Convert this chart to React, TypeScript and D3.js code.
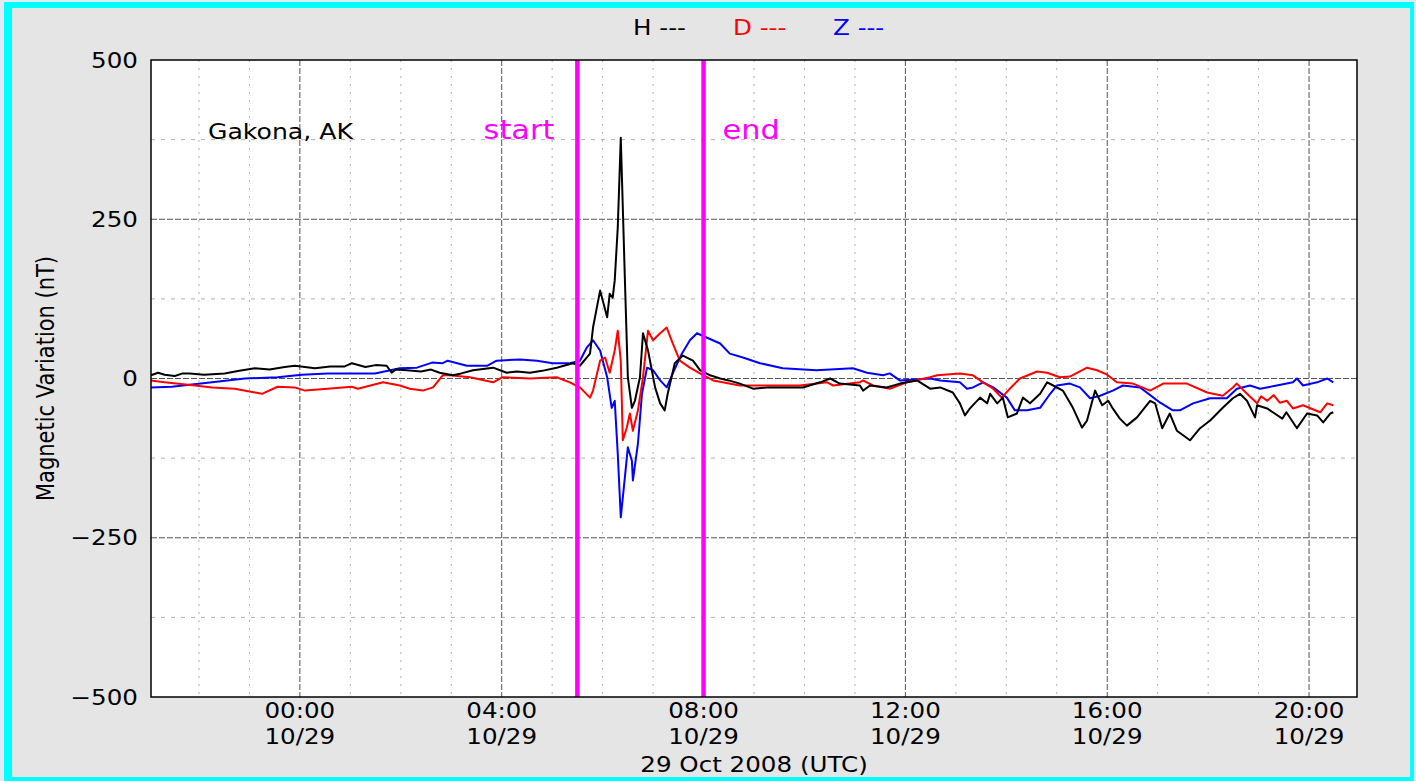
import { useEffect, useRef } from "react";
import * as d3 from "d3";

type Pt = [number, number];

// hours relative to 00:00 UTC 29 Oct 2008, value in nT
const hSeries: Pt[] = [
  [-2.95, 5], [-2.81, 9], [-2.68, 6], [-2.48, 4], [-2.32, 8], [-2.18, 8], [-1.9, 6],
  [-1.49, 8], [-1.2, 12], [-0.89, 16], [-0.6, 14], [-0.3, 18], [-0.1, 20], [0.3, 16],
  [0.6, 19], [0.89, 19], [1.03, 24], [1.3, 18], [1.5, 21], [1.72, 20], [1.82, 9],
  [1.9, 14], [2.12, 13], [2.4, 11], [2.6, 14], [2.77, 9], [3.03, 5], [3.2, 8],
  [3.43, 13], [3.83, 17], [4.1, 9], [4.3, 11], [4.56, 9], [4.8, 12], [5.09, 17],
  [5.41, 24], [5.55, 20], [5.75, 39], [5.81, 80], [5.95, 138], [6.09, 96], [6.14, 133],
  [6.2, 127], [6.24, 154], [6.3, 237], [6.36, 378], [6.44, 159], [6.5, 2], [6.58, -46],
  [6.64, -35], [6.74, 2], [6.8, 71], [6.9, 44], [7.04, -14], [7.14, -39], [7.23, -50],
  [7.29, -24], [7.43, 24], [7.59, 36], [7.79, 28], [7.93, 13], [8.13, 5], [8.33, 0],
  [8.5, -3], [8.72, -8], [8.98, -16], [9.26, -14], [9.65, -14], [9.97, -14], [10.31, -6],
  [10.51, 0], [10.7, -8], [11.1, -11], [11.16, -19], [11.3, -11], [11.63, -14],
  [11.89, -8], [12.23, -3], [12.49, -16], [12.69, -14], [12.94, -22], [13.08, -39],
  [13.18, -58], [13.28, -47], [13.48, -30], [13.62, -39], [13.68, -24], [13.82, -39],
  [13.93, -30], [14.03, -61], [14.21, -55], [14.33, -30], [14.47, -39], [14.67, -24],
  [14.81, -6], [14.93, -11], [15.12, -19], [15.32, -46], [15.5, -77], [15.6, -66],
  [15.76, -19], [15.9, -42], [16.02, -35], [16.11, -47], [16.25, -63], [16.39, -74],
  [16.59, -61], [16.85, -35], [16.95, -39], [17.09, -78], [17.24, -55], [17.38, -82],
  [17.64, -97], [17.84, -78], [18.04, -66], [18.29, -46], [18.49, -31], [18.63, -24],
  [18.77, -35], [18.93, -61], [18.97, -42], [19.17, -47], [19.47, -63], [19.55, -53],
  [19.76, -78], [19.96, -55], [20.16, -58], [20.28, -69], [20.42, -55], [20.48, -53],
];

const dSeries: Pt[] = [
  [-2.95, -3], [-2.68, -6], [-2.08, -11], [-1.74, -14], [-1.29, -16], [-0.89, -22],
  [-0.75, -24], [-0.44, -13], [-0.1, -14], [0.1, -19], [0.55, -16], [1.03, -13],
  [1.15, -16], [1.65, -6], [1.98, -11], [2.18, -16], [2.44, -19], [2.64, -14], [2.83, 5],
  [2.97, 5], [3.37, 2], [3.83, -6], [4.02, 2], [4.56, 0], [5.09, 2], [5.35, -6],
  [5.55, -14], [5.75, -30], [5.81, -19], [5.95, 28], [6.05, 33], [6.14, 9], [6.24, 44],
  [6.3, 75], [6.36, 28], [6.4, -97], [6.48, -77], [6.54, -55], [6.6, -82], [6.7, -50],
  [6.8, 2], [6.9, 75], [7.0, 60], [7.14, 71], [7.27, 80], [7.39, 55], [7.53, 28],
  [7.73, 17], [7.93, 8], [8.19, -3], [8.72, -11], [9.26, -11], [9.91, -11], [10.45, -6],
  [10.57, -11], [11.1, -6], [11.16, -3], [11.36, -11], [11.69, -16], [12.03, -6],
  [12.49, 2], [12.63, 5], [13.08, 8], [13.34, 5], [13.54, -6], [13.74, -16], [13.91, -30],
  [14.07, -16], [14.27, 0], [14.61, 11], [14.81, 9], [15.06, 2], [15.26, 3], [15.6, 17],
  [15.8, 13], [16.0, 6], [16.19, -6], [16.51, -8], [16.85, -19], [17.11, -8], [17.58, -8],
  [17.98, -22], [18.29, -27], [18.49, -14], [18.57, -8], [18.77, -24], [18.97, -39],
  [19.05, -28], [19.17, -35], [19.3, -26], [19.42, -38], [19.56, -35], [19.68, -47],
  [19.88, -42], [20.22, -53], [20.36, -39], [20.48, -42],
];

const zSeries: Pt[] = [
  [-2.95, -14], [-2.54, -13], [-1.74, -6], [-1.09, 0], [-0.44, 2], [0.04, 6], [0.55, 8],
  [1.49, 8], [1.98, 16], [2.32, 17], [2.62, 25], [2.83, 24], [2.93, 28], [3.31, 20],
  [3.71, 20], [3.9, 28], [4.36, 30], [4.7, 28], [5.01, 24], [5.35, 24], [5.55, 28],
  [5.69, 49], [5.81, 60], [5.95, 44], [6.09, 2], [6.18, -46], [6.24, -35], [6.3, -118],
  [6.36, -218], [6.44, -156], [6.5, -108], [6.58, -129], [6.6, -160], [6.7, -102],
  [6.78, -24], [6.88, 17], [7.0, 13], [7.14, -3], [7.27, -14], [7.39, 8], [7.57, 39],
  [7.73, 60], [7.87, 71], [8.07, 64], [8.33, 55], [8.52, 39], [8.78, 33], [9.12, 24],
  [9.57, 16], [10.24, 13], [10.96, 16], [11.24, 9], [11.56, 5], [11.69, 8], [11.89, -3],
  [12.49, 0], [12.69, -3], [13.08, -6], [13.22, -16], [13.34, -14], [13.54, -6],
  [13.74, -14], [14.01, -30], [14.17, -50], [14.41, -50], [14.67, -46], [14.87, -24],
  [15.0, -11], [15.26, -8], [15.46, -14], [15.66, -31], [15.86, -27], [16.11, -19],
  [16.31, -11], [16.65, -14], [17.05, -38], [17.3, -50], [17.44, -50], [17.7, -39],
  [18.04, -31], [18.37, -31], [18.57, -16], [18.83, -11], [19.03, -16], [19.36, -11],
  [19.68, -6], [19.76, 0], [19.88, -11], [20.16, -6], [20.36, 0], [20.48, -6],
];

const yMajorTicks = [500, 250, 0, -250, -500];
const yMinorTicks = [375, 125, -125, -375];
const xMajorHours = [0, 4, 8, 12, 16, 20];
const xMinorHours = [-2, -1, 1, 2, 3, 5, 6, 7, 9, 10, 11, 13, 14, 15, 17, 18, 19];
const xDomainHours: [number, number] = [-2.95, 20.95];
const markers = [
  { label: "start", hour: 5.5 },
  { label: "end", hour: 8 },
];
const legendItems = [
  { name: "H", color: "#000000" },
  { name: "D", color: "#ff0000" },
  { name: "Z", color: "#0000ff" },
];

const DAY0 = Date.UTC(2008, 9, 29);
const toDate = (h: number) => new Date(DAY0 + h * 3600_000);

export default function App() {
  const svgRef = useRef<SVGSVGElement | null>(null);

  useEffect(() => {
    if (!svgRef.current) return;
    const svg = d3.select(svgRef.current);
    svg.selectAll("*").remove();

    const W = 1416;
    const H = 781;
    const m = { left: 151, right: 1357, top: 60, bottom: 697 };
    const font = "'DejaVu Sans', Verdana, sans-serif";
    const sx = 1.17;

    // figure background with cyan frame
    svg.append("rect").attr("width", W).attr("height", H).attr("fill", "#dfeaf6");
    svg.append("rect").attr("x", 4).attr("y", 2).attr("width", W - 6).attr("height", H - 2).attr("fill", "#00ffff");
    svg.append("rect").attr("x", 12).attr("y", 8).attr("width", W - 18).attr("height", H - 12).attr("fill", "#e5e5e5");

    const x = d3.scaleTime().domain(xDomainHours.map(toDate)).range([m.left, m.right]);
    const y = d3.scaleLinear().domain([-500, 500]).range([m.bottom, m.top]);

    svg.append("rect")
      .attr("x", m.left).attr("y", m.top)
      .attr("width", m.right - m.left).attr("height", m.bottom - m.top)
      .attr("fill", "#ffffff");

    const grid = svg.append("g");
    grid.selectAll("line.ymin").data(yMinorTicks).join("line")
      .attr("x1", m.left).attr("x2", m.right)
      .attr("y1", (d) => y(d)).attr("y2", (d) => y(d))
      .attr("stroke", "#b0b0b0").attr("stroke-width", 1).attr("stroke-dasharray", "4,6");
    grid.selectAll("line.xmin").data(xMinorHours).join("line")
      .attr("x1", (d) => x(toDate(d))).attr("x2", (d) => x(toDate(d)))
      .attr("y1", m.top).attr("y2", m.bottom)
      .attr("stroke", "#b0b0b0").attr("stroke-width", 1).attr("stroke-dasharray", "2,6");
    grid.selectAll("line.ymaj").data(yMajorTicks.slice(1, -1)).join("line")
      .attr("x1", m.left).attr("x2", m.right)
      .attr("y1", (d) => y(d)).attr("y2", (d) => y(d))
      .attr("stroke", "#555").attr("stroke-width", 1).attr("stroke-dasharray", "6,2");
    grid.selectAll("line.xmaj").data(xMajorHours).join("line")
      .attr("x1", (d) => x(toDate(d))).attr("x2", (d) => x(toDate(d)))
      .attr("y1", m.top).attr("y2", m.bottom)
      .attr("stroke", "#555").attr("stroke-width", 1).attr("stroke-dasharray", "6,2");

    const line = d3.line<Pt>()
      .x((d) => x(toDate(d[0])))
      .y((d) => y(d[1]));

    const series: [Pt[], string][] = [
      [zSeries, "#0000ff"],
      [dSeries, "#ff0000"],
      [hSeries, "#000000"],
    ];
    svg.append("g").selectAll("path").data(series).join("path")
      .attr("d", (d) => line(d[0]))
      .attr("fill", "none")
      .attr("stroke", (d) => d[1])
      .attr("stroke-width", 2)
      .attr("stroke-linejoin", "round");

    // event markers
    svg.append("g").selectAll("line").data(markers).join("line")
      .attr("x1", (d) => x(toDate(d.hour))).attr("x2", (d) => x(toDate(d.hour)))
      .attr("y1", m.top).attr("y2", m.bottom)
      .attr("stroke", "#ff00ff").attr("stroke-width", 4.5);

    const stretchedText = (
      g: d3.Selection<SVGGElement, unknown, null, undefined>,
      tx: number, ty: number, txt: string, size: number, fill: string, anchor: string,
    ) => {
      g.append("text")
        .attr("transform", `translate(${tx},${ty}) scale(${sx},1)`)
        .attr("font-family", font).attr("font-size", size)
        .attr("fill", fill).attr("text-anchor", anchor)
        .text(txt);
    };

    const labels = svg.append("g");
    markers.forEach((mk) => {
      const px = x(toDate(mk.hour));
      if (mk.label === "start") stretchedText(labels, px - 23, 139, mk.label, 26, "#ff00ff", "end");
      else stretchedText(labels, px + 19, 139, mk.label, 26, "#ff00ff", "start");
    });
    stretchedText(labels, 208, 139, "Gakona, AK", 21.5, "#000", "start");

    // frame
    svg.append("rect")
      .attr("x", m.left).attr("y", m.top)
      .attr("width", m.right - m.left).attr("height", m.bottom - m.top)
      .attr("fill", "none").attr("stroke", "#000").attr("stroke-width", 1.5);

    // y ticks
    const yAxis = svg.append("g");
    yMajorTicks.forEach((t) => {
      stretchedText(yAxis, 138, y(t) + 7.6, d3.format("")(t).replace("-", "\u2212"), 21, "#000", "end");
    });
    svg.append("text")
      .attr("transform", `translate(54,${(m.top + m.bottom) / 2}) scale(${sx},1) rotate(-90)`)
      .attr("font-family", font).attr("font-size", 21)
      .attr("text-anchor", "middle").attr("fill", "#000")
      .text("Magnetic Variation (nT)");

    // x ticks
    const xAxis = svg.append("g");
    const fmtT = d3.utcFormat("%H:%M");
    const fmtD = d3.utcFormat("%m/%d");
    xMajorHours.forEach((h) => {
      const d = toDate(h);
      stretchedText(xAxis, x(d), 718, fmtT(d), 21, "#000", "middle");
      stretchedText(xAxis, x(d), 744, fmtD(d), 21, "#000", "middle");
    });
    stretchedText(xAxis, (m.left + m.right) / 2, 772, "29 Oct 2008 (UTC)", 21, "#000", "middle");

    // legend
    const lg = svg.append("g");
    legendItems.forEach((it, i) => {
      stretchedText(lg, 633 + i * 100, 35, `${it.name} ---`, 21, it.color, "start");
    });
  }, []);

  return (
    <div style={{ position: "absolute", left: 0, top: 0 }}>
      <svg ref={svgRef} width={1416} height={781} style={{ display: "block" }} />
    </div>
  );
}
